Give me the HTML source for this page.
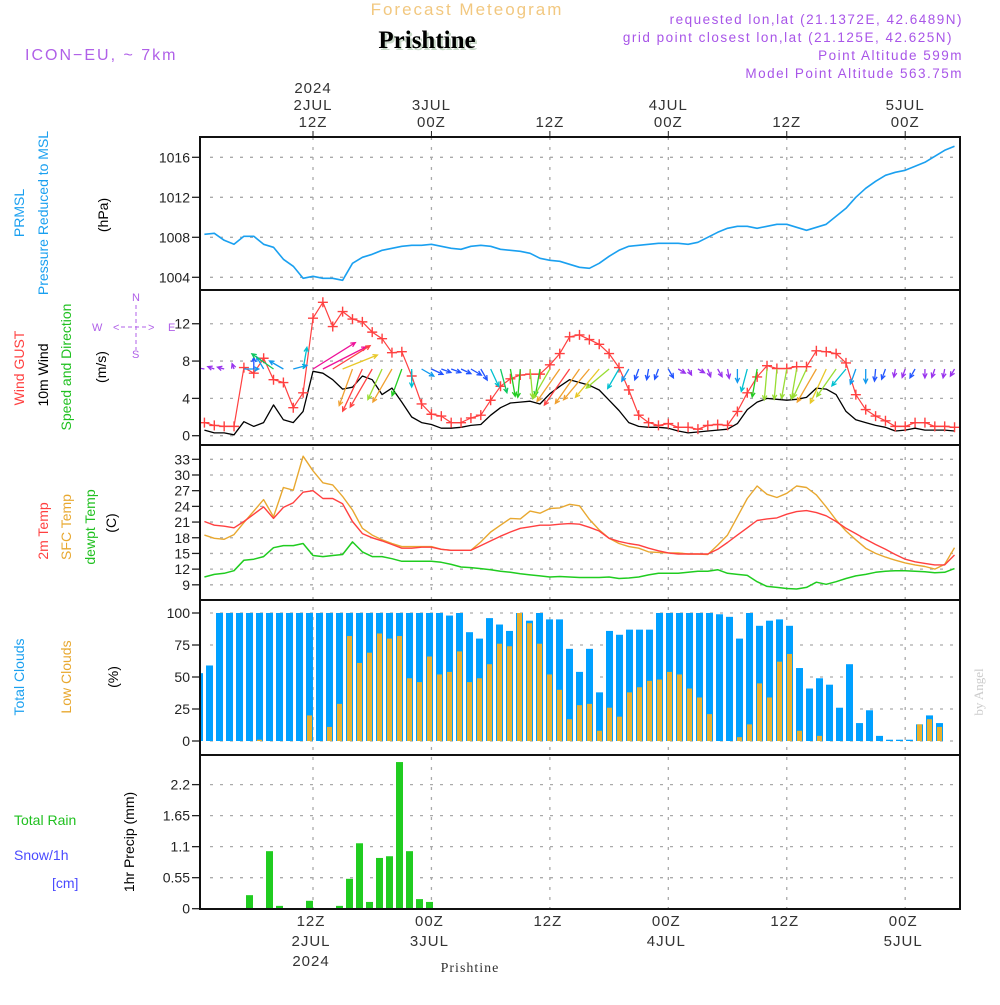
<!DOCTYPE html>
<html><head><meta charset="utf-8"><style>
body{margin:0;background:#fff;}
svg text{font-family:"Liberation Sans",sans-serif;}
</style></head><body>
<svg id="chart" xmlns="http://www.w3.org/2000/svg" width="1000" height="1000" viewBox="0 0 1000 1000">
<rect x="0" y="0" width="1000" height="1000" fill="#fff"/>
<text x="467" y="15" font-size="17" fill="#f2c880" letter-spacing="2" text-anchor="middle">Forecast Meteogram</text>
<text x="427" y="48" font-size="25" font-weight="bold" font-family="Liberation Serif" text-anchor="middle" fill="#c8d8c8" dx="2" dy="2" style="font-family:'Liberation Serif',serif">Prishtine</text>
<text x="427" y="48" font-size="25" font-weight="bold" text-anchor="middle" fill="#000" style="font-family:'Liberation Serif',serif">Prishtine</text>
<text x="25" y="60" font-size="16" fill="#b060e8" letter-spacing="2">ICON−EU, ~ 7km</text>
<g font-size="13.5" fill="#a855e8" text-anchor="end" letter-spacing="1.5">
<text x="963" y="24">requested lon,lat (21.1372E, 42.6489N)</text>
<text x="953" y="42">grid point closest lon,lat (21.125E, 42.625N)</text>
<text x="963" y="60">Point Altitude 599m</text>
<text x="963" y="78">Model Point Altitude 563.75m</text>
</g>
<g font-size="14">
<text transform="translate(24,213) rotate(-90)" text-anchor="middle" fill="#1aa0f0">PRMSL</text>
<text transform="translate(48,213) rotate(-90)" text-anchor="middle" fill="#1aa0f0">Pressure Reduced to MSL</text>
<text transform="translate(108,215) rotate(-90)" text-anchor="middle" fill="#000">(hPa)</text>
<text transform="translate(24,368) rotate(-90)" text-anchor="middle" fill="#ff4040">Wind GUST</text>
<text transform="translate(48,375) rotate(-90)" text-anchor="middle" fill="#000">10m Wind</text>
<text transform="translate(71,367) rotate(-90)" text-anchor="middle" fill="#20c020">Speed and Direction</text>
<text transform="translate(106,367) rotate(-90)" text-anchor="middle" fill="#000">(m/s)</text>
<text transform="translate(48,531) rotate(-90)" text-anchor="middle" fill="#ff4040">2m Temp</text>
<text transform="translate(71,527) rotate(-90)" text-anchor="middle" fill="#e8a830">SFC Temp</text>
<text transform="translate(95,527) rotate(-90)" text-anchor="middle" fill="#20c020">dewpt Temp</text>
<text transform="translate(116,523) rotate(-90)" text-anchor="middle" fill="#000">(C)</text>
<text transform="translate(24,677) rotate(-90)" text-anchor="middle" fill="#1aa0f0">Total Clouds</text>
<text transform="translate(71,677) rotate(-90)" text-anchor="middle" fill="#e8a830">Low Clouds</text>
<text transform="translate(118,677) rotate(-90)" text-anchor="middle" fill="#000">(%)</text>
<text x="14" y="825" fill="#20c020">Total  Rain</text>
<text x="14" y="860" fill="#4a4aff">Snow/1h</text>
<text x="52" y="888" fill="#4a4aff">[cm]</text>
<text transform="translate(134,842) rotate(-90)" text-anchor="middle" fill="#000">1hr Precip (mm)</text>
</g>
<g font-size="11" fill="#b060e8" stroke="none">
<text x="132" y="301">N</text>
<text x="92" y="331">W</text>
<text x="168" y="331">E</text>
<text x="132" y="358">S</text>
<text x="113" y="331">&lt;</text><text x="148" y="331">&gt;</text>
<line x1="121" y1="327" x2="147" y2="327" stroke="#b060e8" stroke-dasharray="4,3"/>
<line x1="136" y1="305" x2="136" y2="350" stroke="#b060e8" stroke-dasharray="4,3"/>
</g>
<text transform="translate(983,692) rotate(-90)" text-anchor="middle" font-size="13" fill="#ccc" style="font-family:'Liberation Serif',serif">by Angel</text>
<text x="470" y="972" font-size="14" text-anchor="middle" fill="#333" style="font-family:'Liberation Serif',serif" letter-spacing="1">Prishtine</text>
<g id="plot"></g>
</svg>
<script>
// ---- data (hourly, starting 01Z 2 JUL) ----
const pressure = [1008.3,1008.4,1007.7,1007.3,1008.1,1008.1,1007.3,1007.0,1005.8,1005.1,1003.9,1004.1,1003.9,1003.9,1003.7,1005.4,1006.0,1006.3,1006.7,1006.9,1007.1,1007.2,1007.2,1007.3,1007.1,1006.9,1006.8,1007.1,1007.2,1007.1,1006.8,1006.7,1006.6,1006.4,1005.9,1005.7,1005.6,1005.3,1005.0,1004.9,1005.4,1006.1,1006.7,1007.1,1007.2,1007.3,1007.4,1007.4,1007.4,1007.3,1007.5,1008.0,1008.5,1008.9,1009.1,1009.1,1008.9,1009.1,1009.3,1009.3,1009.0,1008.7,1009.0,1009.3,1010.1,1010.9,1012.0,1012.9,1013.6,1014.2,1014.5,1014.7,1015.1,1015.5,1016.1,1016.7,1017.1];
const gust = [1.4,1.1,1.0,1.0,7.3,6.7,8.3,6.0,5.7,3.0,4.6,12.6,14.3,11.7,13.3,12.5,12.2,11.1,10.4,8.9,9.0,6.4,3.4,2.3,2.1,1.4,1.4,1.9,2.2,3.8,5.3,6.1,6.5,6.6,6.6,7.6,8.8,10.6,10.8,10.3,9.8,8.8,7.3,4.9,2.2,1.4,1.1,1.3,0.9,0.9,0.7,1.1,1.2,1.1,2.6,4.6,6.3,7.5,7.2,7.2,7.4,7.4,9.1,9.0,8.8,7.8,4.4,2.8,2.1,1.6,1.0,1.0,1.4,1.4,1.0,1.0,0.9];
const windSpeed = [0.6,0.3,0.3,0.1,1.5,1.0,1.4,3.3,1.7,1.4,2.6,6.9,6.7,6.0,5.0,5.2,6.4,6.0,4.4,5.1,3.6,2.0,1.4,1.2,0.8,0.8,0.9,1.1,1.2,2.2,3.0,3.5,3.6,3.7,3.4,4.5,5.3,6.0,5.7,5.4,4.9,3.8,2.7,1.4,1.0,0.9,0.9,0.8,0.5,0.3,0.4,0.5,0.6,0.7,1.3,2.8,3.6,4.0,3.9,3.8,3.9,4.1,5.1,5.0,4.4,2.6,1.7,1.4,1.1,0.9,0.5,0.6,0.8,0.6,0.6,0.6,0.5];
const windDir = [280,290,285,340,90,0,330,305,300,75,10,58,63,58,68,200,205,210,205,210,200,180,120,115,110,110,115,120,150,155,165,170,185,175,190,210,215,215,215,220,220,230,210,210,200,190,200,150,120,150,120,160,150,170,180,195,190,185,185,190,190,205,210,205,215,220,200,180,185,200,190,200,210,180,200,190,210];
const temp2m = [21.1,20.4,20.2,19.9,21.1,22.5,23.9,21.7,23.8,24.7,26.7,27.0,25.5,25.5,24.5,21.1,18.8,18.0,17.4,16.7,16.0,16.0,16.2,16.2,15.8,15.6,15.6,15.6,16.5,17.4,18.3,19.1,19.8,20.1,20.4,20.4,20.6,20.7,20.6,20.0,19.3,17.9,17.3,16.9,16.6,16.0,15.5,15.1,14.9,14.9,14.9,14.9,15.8,17.1,18.5,19.9,21.3,21.6,21.8,22.5,23.0,23.2,22.8,22.2,21.1,19.8,18.8,17.7,16.7,15.8,14.8,13.9,13.4,13.1,12.8,12.8,14.7];
const sfcTemp = [18.5,17.9,17.7,18.6,20.9,23.1,25.3,22.0,27.6,27.1,33.6,30.8,28.5,28.1,25.9,23.3,19.8,18.5,17.6,16.9,16.3,16.3,16.3,16.3,15.8,15.6,15.6,15.6,17.2,19.1,20.4,21.7,21.6,23.1,22.7,23.6,23.7,24.4,24.1,21.5,19.5,17.9,16.9,16.3,16.0,15.3,15.2,15.1,15.1,14.9,14.9,14.8,16.6,18.5,22.0,25.5,27.9,26.3,25.7,26.5,27.9,27.6,26.2,23.9,21.4,19.3,17.6,16.0,15.0,14.3,13.7,13.2,12.8,12.5,12.0,12.9,16.1];
const dewpt = [10.5,11.0,11.2,11.7,13.7,13.9,14.4,16.1,16.5,16.5,16.9,14.6,14.4,14.6,14.8,17.2,15.3,14.4,14.4,14.0,13.5,13.5,13.5,13.5,13.3,12.9,12.4,12.3,12.1,11.9,11.6,11.4,11.1,10.9,10.7,10.5,10.6,10.5,10.4,10.4,10.4,10.5,10.2,10.3,10.5,10.9,11.2,11.2,11.2,11.4,11.6,11.6,11.9,11.2,11.0,10.8,9.6,8.7,8.5,8.3,8.2,8.5,9.5,9.1,9.6,10.2,10.7,11.0,11.4,11.6,11.7,11.7,11.6,11.5,11.3,11.4,12.1];
// bar series (hourly, starting 00Z 2 JUL)
const totalClouds = [53,59,100,100,100,100,100,100,100,100,100,100,100,100,100,100,100,100,100,100,100,100,100,100,100,98,100,85,80,96,91,86,100,94,100,95,95,72,54,72,38,86,83,87,87,87,100,100,100,100,100,100,99,97,80,100,90,94,95,90,57,41,49,44,26,60,14,24,4,1,1,1,13,20,14,0,0];
const lowClouds = [0,0,0,0,0,0,1,0,0,0,0,20,0,11,29,82,61,69,84,80,82,49,46,66,52,54,70,46,49,60,76,74,100,92,76,52,40,17,28,29,8,26,19,38,42,47,48,54,52,41,34,21,0,0,3,13,45,34,62,68,8,0,4,0,0,0,0,0,0,0,0,0,13,17,11,0,0];
const precip = [0,0,0,0,0,0.24,0,1.02,0.05,0,0,0.14,0,0,0.05,0.53,1.16,0.12,0.90,0.93,2.60,1.02,0.17,0.12,0,0,0,0,0,0,0,0,0,0,0,0,0,0,0,0,0,0,0,0,0,0,0,0,0,0,0,0,0,0,0,0,0,0,0,0,0,0,0,0,0,0,0,0,0,0,0,0,0,0,0,0,0];
const pressureTicks = [1004,1008,1012,1016];
const windTicks = [0,4,8,12];
const tempTicks = [9,12,15,18,21,24,27,30,33];
const cloudTicks = [0,25,50,75,100];
const precipTicks = [0,0.55,1.1,1.65,2.2];
const timeTicksTop = [{h:12,l:["2024","2JUL","12Z"]},{h:24,l:["3JUL","00Z"]},{h:36,l:["12Z"]},{h:48,l:["4JUL","00Z"]},{h:60,l:["12Z"]},{h:72,l:["5JUL","00Z"]}];
const timeTicksBottom = [{h:12,l:["12Z","2JUL","2024"]},{h:24,l:["00Z","3JUL"]},{h:36,l:["12Z"]},{h:48,l:["00Z","4JUL"]},{h:60,l:["12Z"]},{h:72,l:["00Z","5JUL"]}];

// ---- scales ----
const X0=200, X1=960;
const xT = h => 313 + (h-12)*9.87;          // line series, hour h
const xB = h => 199.5 + 10*h;               // bar series, hour h
const yP = v => 157.3 + (1016-v)*10;
const yW = v => 435.7 - v*9.33;
const yT = v => 459.3 + (33-v)*5.23;
const yC = v => 741 - v*1.28;
const yR = v => 908.7 - v*56.4;
const panels = [[137,290],[290,445],[445,600],[600,755],[755,909]];

const NS="http://www.w3.org/2000/svg";
const plot=document.getElementById('plot');
function mk(tag,attrs,parent){const e=document.createElementNS(NS,tag);for(const k in attrs)e.setAttribute(k,attrs[k]);(parent||plot).appendChild(e);return e;}

// clip
const defs=mk('defs',{});
const cp=mk('clipPath',{id:'pc'},defs);
mk('rect',{x:X0,y:137,width:X1-X0,height:772},cp);

// grid
const grid=mk('g',{stroke:'#aaa','stroke-width':1.3,'stroke-dasharray':'3,7'});


function hgrid(ticks,ys){ticks.forEach(t=>{const y=ys(t);mk('line',{x1:X0+10,x2:X1,y1:y,y2:y},grid);});}
hgrid(pressureTicks,yP);hgrid(windTicks,yW);hgrid(tempTicks,yT);hgrid(cloudTicks,yC);hgrid(precipTicks.slice(1),yR);
timeTicksTop.forEach(t=>{const x=xT(t.h);mk('line',{x1:x,x2:x,y1:137,y2:909},grid);});

// axis labels
const axl=mk('g',{'font-size':14,fill:'#222','text-anchor':'end'});


function ylabels(ticks,ys,fmt){ticks.forEach(t=>{const y=ys(t);const tx=mk('text',{x:190,y:y+5},axl);tx.textContent=fmt?fmt(t):t;mk('line',{x1:192,x2:200,y1:y,y2:y,stroke:'#222','stroke-width':1.3},axl);});}
ylabels(pressureTicks,yP);ylabels(windTicks,yW);ylabels(tempTicks,yT);ylabels(cloudTicks,yC);ylabels(precipTicks,yR);

// time labels
const tl=mk('g',{'font-size':15,fill:'#333','text-anchor':'middle','letter-spacing':'1'});


timeTicksTop.forEach(t=>{const x=xT(t.h);const n=t.l.length;t.l.forEach((s,k)=>{const e=mk('text',{x:x,y:127-(n-1-k)*17},tl);e.textContent=s;});mk('line',{x1:x,x2:x,y1:131,y2:137,stroke:'#222'},tl);});
timeTicksBottom.forEach(t=>{const x=xT(t.h)-2;t.l.forEach((s,k)=>{const e=mk('text',{x:x,y:926+k*20},tl);e.textContent=s;});});

const g=mk('g',{'clip-path':'url(#pc)'});

// pressure
function line(arr,ys,color,name,w){
  const d=arr.map((v,i)=>(i?'L':'M')+xT(i+1).toFixed(1)+','+ys(v).toFixed(1)).join('');
  const p=mk('path',{d:d,fill:'none',stroke:color,'stroke-width':w||1.4,'stroke-linejoin':'round'},g);
  
  
  return p;
}
line(pressure,yP,'#1aa0f0','pressure-line',1.6);

// wind speed & gust
line(windSpeed,yW,'#000','wind-speed-line',1.3);
line(gust,yW,'#ff4040','gust-line',1.2);
gust.forEach((v,i)=>{const x=xT(i+1),y=yW(v);
  const m=mk('path',{d:`M${x-5},${y}H${x+5}M${x},${y-5}V${y+5}`,stroke:'#ff4040','stroke-width':1.4},g);
  
  
});
function wcol(s){if(s<0.8)return'#9933ee';if(s<1.3)return'#2255ff';if(s<2.0)return'#1199ee';if(s<3.0)return'#00c0d0';if(s<3.4)return'#10c860';if(s<3.7)return'#22cc22';if(s<4.6)return'#99dd33';if(s<5.1)return'#e8c828';if(s<5.8)return'#f0a030';if(s<6.6)return'#ff4444';return'#ee1199';}
windSpeed.forEach((s,i)=>{const x=xT(i+1),y=369;const L=Math.min(5+6.5*s,52);const a=windDir[i]*Math.PI/180;
  const ex=x+L*Math.sin(a),ey=y-L*Math.cos(a);
  const h1=a+Math.PI-0.45,h2=a+Math.PI+0.45,hl=5;
  const d=`M${x},${y}L${ex.toFixed(1)},${ey.toFixed(1)}M${(ex+hl*Math.sin(h1)).toFixed(1)},${(ey-hl*Math.cos(h1)).toFixed(1)}L${ex.toFixed(1)},${ey.toFixed(1)}L${(ex+hl*Math.sin(h2)).toFixed(1)},${(ey-hl*Math.cos(h2)).toFixed(1)}`;
  const p=mk('path',{d:d,fill:'none',stroke:wcol(s),'stroke-width':1.3},g);
  
  
});

// temps
line(dewpt,yT,'#20cc20','dewpoint-line',1.5);
line(sfcTemp,yT,'#e8a830','sfc-temp-line',1.4);
line(temp2m,yT,'#ff4040','temp-2m-line',1.4);

// clouds
totalClouds.forEach((v,i)=>{const x=xB(i);const r=mk('rect',{x:x-3.5,y:yC(v),width:7,height:Math.max(0,yC(0)-yC(v)),fill:'#00a0ff'},g);
  
  });
lowClouds.forEach((v,i)=>{const x=xB(i);const r=mk('rect',{x:x-2.5,y:yC(v),width:5,height:Math.max(0,yC(0)-yC(v)),fill:'#e8b030'},g);
  
  });

// precip
precip.forEach((v,i)=>{if(v<=0)return;const x=xB(i);const r=mk('rect',{x:x-3.5,y:yR(v),width:7,height:yR(0)-yR(v),fill:'#20cc20'},g);
  
  });

// frames
const fr=mk('g',{fill:'none',stroke:'#111','stroke-width':2});


panels.forEach(p=>mk('rect',{x:X0,y:p[0],width:X1-X0,height:p[1]-p[0]},fr));
mk('line',{x1:X0,x2:X1,y1:909,y2:909,stroke:'#111','stroke-width':2,'stroke-dasharray':'8,2'},fr);
</script>
</body></html>
